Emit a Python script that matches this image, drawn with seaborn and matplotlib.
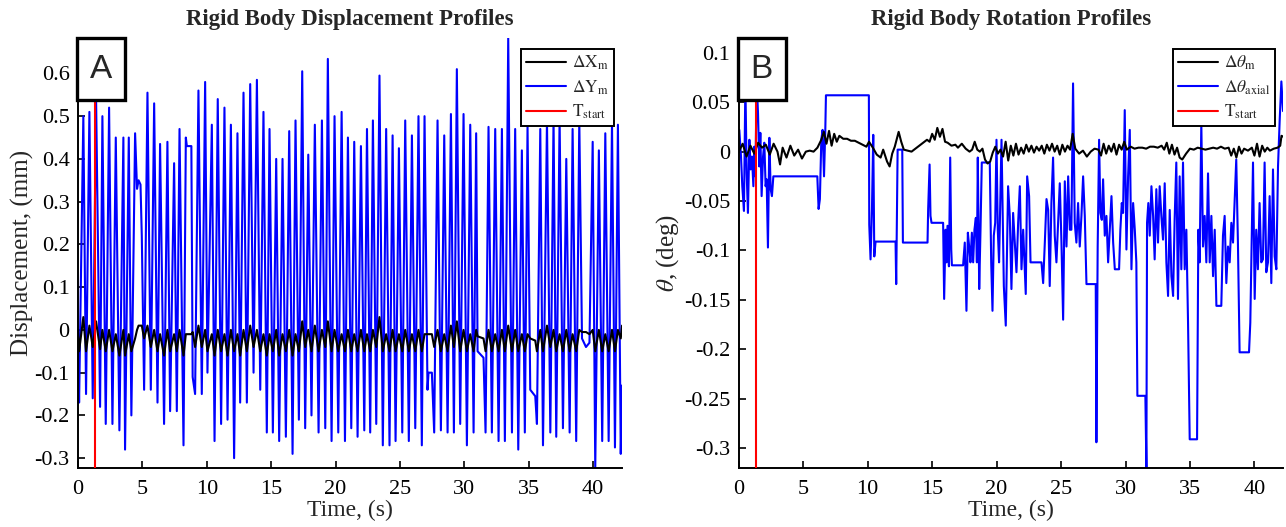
import numpy as np
import pandas as pd
import matplotlib
matplotlib.use("Agg")
import matplotlib.pyplot as plt
from matplotlib.patches import Rectangle
from matplotlib.ticker import FixedLocator, FixedFormatter
import seaborn as sns

# ---------------- Panel A: rigid body displacement (mm) ----------------
t_disp = [
    0.00, 0.08, 0.41, 0.62, 0.88, 1.14, 1.40, 1.71, 1.89, 2.15,
    2.41, 2.67, 2.93, 3.21, 3.52, 3.65, 3.94, 4.14, 4.43, 4.58,
    4.70, 4.85, 4.95, 5.13, 5.39, 5.65, 5.91, 6.17, 6.37, 6.68,
    6.94, 7.15, 7.46, 7.67, 7.88, 8.19, 8.37, 8.45, 8.80, 8.90,
    9.09, 9.35, 9.61, 9.87, 10.05, 10.39, 10.60, 10.85, 11.11, 11.37,
    11.61, 11.87, 12.12, 12.38, 12.59, 12.85, 13.11, 13.37, 13.63, 13.89,
    14.15, 14.40, 14.66, 14.87, 15.13, 15.39, 15.62, 15.88, 16.14, 16.40,
    16.66, 16.89, 17.15, 17.41, 17.64, 17.88, 18.13, 18.39, 18.68, 18.94,
    19.20, 19.40, 19.69, 19.92, 20.21, 20.47, 20.73, 20.96, 21.22, 21.45,
    21.71, 21.97, 22.23, 22.44, 22.69, 22.90, 23.16, 23.41, 23.67, 23.93,
    24.19, 24.43, 24.66, 24.92, 25.18, 25.41, 25.69, 25.93, 26.19, 26.44,
    26.70, 26.91, 27.14, 27.22, 27.48, 27.66, 27.92, 28.18, 28.44, 28.70,
    28.96, 29.19, 29.42, 29.68, 29.94, 30.20, 30.46, 30.72, 30.92, 31.03,
    31.49, 31.65, 31.88, 32.14, 32.40, 32.66, 32.92, 33.15, 33.41, 33.70,
    33.95, 34.19, 34.47, 34.70, 34.91, 35.12, 35.51, 35.64, 35.90, 36.11,
    36.42, 36.68, 36.93, 37.14, 37.40, 37.66, 37.92, 38.18, 38.41, 38.69,
    38.93, 39.14, 39.45, 39.72, 39.97, 40.17, 40.45, 40.71, 40.95, 41.21,
    41.47, 41.70, 41.93, 42.15, 42.25,
]
dY_m = [
    -0.02, -0.17, 0.50, -0.15, 0.51, -0.16, 0.54, -0.18, 0.50, -0.22,
    0.52, -0.22, 0.45, -0.235, 0.45, -0.28, 0.45, -0.20, 0.46, 0.33,
    0.35, 0.34, 0.22, -0.14, 0.555, -0.14, 0.53, -0.17, 0.435, -0.22,
    0.44, -0.19, 0.39, -0.19, 0.47, -0.27, 0.45, 0.43, 0.43, -0.11,
    -0.15, 0.56, -0.15, 0.58, -0.10, 0.48, -0.26, 0.54, -0.22, 0.52,
    -0.21, 0.48, -0.30, 0.46, -0.17, 0.555, -0.17, 0.575, -0.10, 0.585,
    -0.14, 0.51, -0.24, 0.47, -0.24, 0.40, -0.26, 0.40, -0.25, 0.465,
    -0.29, 0.49, -0.21, 0.605, -0.23, 0.41, -0.20, 0.48, -0.24, 0.49,
    -0.23, 0.634, -0.26, 0.50, -0.24, 0.51, -0.26, 0.45, -0.23, 0.44,
    -0.25, 0.43, -0.235, 0.47, -0.24, 0.49, -0.22, 0.595, -0.27, 0.47,
    -0.27, 0.455, -0.26, 0.425, -0.24, 0.49, -0.26, 0.455, -0.23, 0.50,
    -0.27, 0.50, -0.14, -0.10, -0.10, -0.24, 0.49, -0.235, 0.455, -0.24,
    0.505, -0.24, 0.61, -0.22, 0.505, -0.27, 0.48, -0.24, 0.46, -0.05,
    -0.065, -0.24, 0.475, -0.24, 0.47, -0.26, 0.47, -0.26, 0.683, -0.24,
    0.47, -0.28, 0.42, -0.24, 0.477, -0.14, -0.155, -0.22, 0.47, -0.27,
    0.49, -0.24, 0.495, -0.25, 0.495, -0.23, 0.40, -0.24, 0.47, -0.26,
    0.49, -0.02, -0.04, -0.03, 0.44, -0.323, 0.42, -0.26, 0.46, -0.26,
    0.485, -0.275, 0.48, -0.29, -0.13,
]
dX_m = [
    0.00, -0.05, 0.03, -0.05, 0.01, -0.04, 0.02, -0.045, 0.00, -0.05,
    0.00, -0.05, -0.01, -0.06, 0.00, -0.06, -0.01, -0.05, -0.02, 0.00,
    0.01, 0.01, 0.01, -0.02, 0.01, -0.04, 0.00, -0.05, -0.01, -0.06,
    0.00, -0.05, -0.01, -0.05, 0.00, -0.06, -0.01, -0.01, -0.01, -0.005,
    -0.04, 0.01, -0.04, 0.00, -0.05, -0.01, -0.06, 0.00, -0.05, -0.01,
    -0.06, 0.00, -0.05, -0.01, -0.06, 0.00, -0.05, 0.01, -0.04, 0.00,
    -0.05, -0.01, -0.06, -0.01, -0.05, 0.00, -0.06, -0.01, -0.05, 0.00,
    -0.06, -0.01, -0.05, 0.02, -0.04, 0.00, -0.05, 0.01, -0.05, 0.00,
    -0.04, 0.02, -0.05, 0.00, -0.05, -0.01, -0.05, 0.00, -0.05, -0.01,
    -0.05, 0.00, -0.05, -0.01, -0.05, 0.00, -0.04, 0.03, -0.05, -0.01,
    -0.05, 0.00, -0.05, -0.01, -0.05, 0.00, -0.05, -0.01, -0.05, 0.00,
    -0.05, -0.01, -0.01, -0.01, -0.01, -0.04, 0.00, -0.05, -0.01, -0.05,
    0.01, -0.04, 0.02, -0.05, 0.00, -0.05, -0.01, -0.05, 0.00, -0.015,
    -0.02, -0.05, 0.00, -0.05, -0.01, -0.05, 0.00, -0.05, 0.01, -0.05,
    0.00, -0.05, -0.01, -0.05, -0.01, -0.02, -0.025, -0.05, 0.00, -0.05,
    0.01, -0.04, 0.00, -0.05, -0.01, -0.05, 0.00, -0.05, -0.01, -0.05,
    0.00, -0.005, -0.005, -0.01, 0.00, -0.05, 0.00, -0.05, -0.01, -0.05,
    0.00, -0.05, 0.00, -0.02, 0.01,
]

# ---------------- Panel B: rigid body rotation (deg) ----------------
t_axial = [
    0.04, 0.17, 0.27, 0.40, 0.51, 0.61, 0.71, 0.82, 0.92, 1.02,
    1.13, 1.20, 1.28, 1.39, 1.49, 1.59, 1.67, 1.77, 1.88, 1.98,
    2.08, 2.16, 2.26, 2.37, 2.47, 2.57, 2.68, 6.09, 6.19, 6.29,
    6.40, 6.50, 6.61, 6.71, 6.76, 10.09, 10.12, 10.22, 10.33, 10.43,
    10.51, 10.61, 12.16, 12.21, 12.32, 12.68, 12.73, 14.64, 14.69, 14.80,
    14.87, 14.95, 15.85, 15.93, 16.04, 16.11, 16.19, 16.30, 16.40, 16.48,
    16.53, 17.40, 17.53, 17.66, 17.77, 17.87, 17.97, 18.08, 18.18, 18.28,
    18.39, 18.47, 18.54, 18.65, 18.75, 18.85, 19.47, 19.58, 19.68, 19.78,
    19.89, 19.99, 20.09, 20.19, 20.38, 20.56, 20.71, 20.89, 21.02, 21.15,
    21.28, 21.41, 21.54, 21.67, 21.80, 21.93, 22.06, 22.26, 22.37, 22.52,
    22.63, 23.48, 23.61, 23.74, 23.87, 24.00, 24.12, 24.25, 24.38, 24.51,
    24.64, 24.77, 24.90, 25.03, 25.16, 25.29, 25.42, 25.55, 25.68, 25.80,
    25.93, 26.06, 26.19, 26.32, 26.45, 26.58, 26.71, 26.84, 26.97, 27.69,
    27.74, 27.84, 27.95, 28.05, 28.16, 28.26, 28.39, 28.52, 28.65, 28.78,
    28.91, 29.04, 29.17, 29.50, 29.60, 29.71, 29.81, 29.94, 30.07, 30.20,
    30.33, 30.46, 30.59, 30.72, 30.84, 30.92, 31.54, 31.62, 31.67, 31.77,
    31.88, 32.01, 32.14, 32.26, 32.39, 32.52, 32.65, 32.78, 32.91, 33.04,
    33.17, 33.30, 33.43, 33.56, 33.69, 33.81, 33.94, 34.07, 34.20, 34.33,
    34.46, 34.59, 34.72, 34.85, 34.98, 35.55, 35.65, 35.75, 35.88, 36.01,
    36.14, 36.27, 36.40, 36.53, 36.66, 36.79, 36.92, 37.05, 37.43, 37.56,
    37.69, 37.82, 37.95, 38.08, 38.21, 38.34, 38.46, 38.59, 38.72, 38.85,
    39.58, 39.68, 39.78, 39.89, 40.02, 40.14, 40.27, 40.40, 40.53, 40.66,
    40.79, 40.92, 41.05, 41.18, 41.31, 41.44, 41.57, 41.70, 41.83, 41.96,
    42.09, 42.22,
]
dtheta_axial = [
    0.022, -0.005, -0.035, -0.060, 0.070, -0.022, -0.062, 0.012, -0.018, -0.005,
    -0.035, 0.005, -0.025, 0.070, 0.039, -0.015, 0.019, -0.045, -0.005, 0.009,
    -0.035, -0.028, -0.097, 0.014, -0.038, -0.045, -0.025, -0.025, -0.058, -0.048,
    0.012, 0.022, -0.025, 0.022, 0.057, 0.057, -0.074, -0.109, -0.058, 0.017,
    -0.106, -0.091, -0.091, -0.134, 0.002, 0.002, -0.092, -0.092, -0.058, -0.013,
    -0.065, -0.072, -0.072, -0.149, -0.079, -0.112, -0.075, -0.116, -0.006, -0.099,
    -0.115, -0.115, -0.092, -0.161, -0.082, -0.096, -0.112, -0.082, -0.112, -0.079,
    -0.067, -0.112, -0.006, -0.139, -0.079, -0.011, -0.011, -0.112, -0.161, -0.085,
    -0.072, 0.012, -0.079, -0.112, 0.012, -0.136, -0.176, -0.035, -0.065, -0.139,
    -0.062, -0.092, -0.122, -0.072, -0.035, -0.119, -0.079, -0.144, -0.025, -0.045,
    -0.112, -0.112, -0.133, -0.092, -0.048, -0.059, -0.136, -0.052, -0.006, -0.085,
    -0.112, -0.072, -0.032, -0.092, -0.170, -0.030, -0.096, -0.025, -0.079, -0.079,
    0.069, -0.072, -0.092, -0.052, -0.096, -0.065, -0.025, -0.065, -0.134, -0.134,
    -0.294, -0.096, 0.012, -0.062, -0.069, -0.028, -0.085, -0.065, -0.112, -0.079,
    -0.045, -0.092, -0.119, -0.119, -0.079, -0.052, -0.062, 0.042, -0.099, -0.025,
    0.022, -0.119, -0.052, -0.079, -0.112, -0.247, -0.247, -0.320, -0.072, -0.052,
    -0.085, -0.035, -0.065, -0.109, -0.038, -0.092, -0.035, -0.065, -0.089, -0.032,
    -0.112, -0.146, -0.059, -0.126, -0.146, -0.069, -0.011, -0.149, -0.025, -0.119,
    -0.011, -0.119, -0.079, -0.173, -0.291, -0.291, -0.079, -0.112, 0.029, -0.096,
    -0.065, -0.112, -0.022, -0.112, -0.065, -0.126, -0.079, -0.156, -0.156, -0.085,
    -0.065, -0.133, -0.096, -0.112, -0.072, -0.092, -0.052, -0.008, -0.092, -0.203,
    -0.203, -0.173, -0.096, -0.011, -0.149, -0.079, -0.119, -0.052, -0.112, -0.109,
    -0.011, -0.122, -0.112, -0.045, -0.133, -0.018, -0.106, -0.119, -0.015, 0.032,
    0.071, 0.041,
]
t_theta_m = [
    0.0, 0.3, 0.6, 0.9, 1.2, 1.5, 1.8, 2.1, 2.4, 2.7,
    3.0, 3.2, 3.4, 3.7, 4.0, 4.3, 4.6, 4.9, 5.2, 5.5,
    5.8, 6.1, 6.4, 6.6, 6.8, 7.0, 7.2, 7.4, 7.6, 7.8,
    8.1, 8.4, 8.7, 9.0, 9.3, 9.6, 9.9, 10.1, 10.4, 10.7,
    11.0, 11.2, 11.5, 11.7, 11.9, 12.1, 12.4, 12.6, 12.8, 13.1,
    13.4, 13.7, 14.0, 14.3, 14.6, 14.8, 15.0, 15.2, 15.4, 15.6,
    15.8, 16.0, 16.2, 16.5, 16.8, 17.0, 17.3, 17.6, 17.9, 18.1,
    18.3, 18.5, 18.7, 18.9, 19.1, 19.3, 19.5, 19.7, 19.9, 20.1,
    20.3, 20.5, 20.7, 20.9, 21.1, 21.3, 21.5, 21.7, 21.9, 22.1,
    22.3, 22.5, 22.7, 22.9, 23.1, 23.3, 23.5, 23.7, 23.9, 24.1,
    24.3, 24.5, 24.7, 24.9, 25.1, 25.3, 25.5, 25.7, 25.9, 26.1,
    26.4, 26.7, 27.0, 27.3, 27.6, 27.9, 28.1, 28.3, 28.5, 28.7,
    28.9, 29.1, 29.3, 29.5, 29.7, 29.9, 30.1, 30.4, 30.7, 31.0,
    31.3, 31.6, 31.9, 32.2, 32.5, 32.8, 33.0, 33.2, 33.4, 33.6,
    33.8, 34.0, 34.2, 34.4, 34.7, 35.0, 35.3, 35.6, 35.9, 36.2,
    36.5, 36.8, 37.1, 37.4, 37.7, 38.0, 38.2, 38.4, 38.6, 38.8,
    39.0, 39.2, 39.5, 39.8, 40.0, 40.2, 40.4, 40.6, 40.8, 41.0,
    41.2, 41.5, 41.8, 42.0, 42.1, 42.25,
]
dtheta_m = [
    0.000, 0.008, -0.005, 0.006, -0.002, 0.009, 0.004, 0.007, -0.003, 0.008,
    0.000, -0.013, 0.004, -0.006, 0.006, -0.004, 0.002, -0.007, 0.000, 0.001,
    0.000, 0.004, 0.012, 0.020, 0.008, 0.021, 0.006, 0.018, 0.010, 0.016,
    0.013, 0.013, 0.011, 0.011, 0.009, 0.007, 0.005, 0.010, 0.004, -0.003,
    -0.006, 0.002, -0.010, -0.015, -0.002, 0.005, 0.020, 0.010, 0.002, 0.001,
    0.000, 0.003, 0.006, 0.009, 0.012, 0.010, 0.018, 0.012, 0.024, 0.015,
    0.023, 0.010, 0.009, 0.006, 0.007, 0.004, 0.008, 0.003, 0.000, 0.002,
    0.010, 0.002, 0.000, 0.003, -0.008, -0.012, -0.010, -0.001, 0.005, -0.002,
    0.002, -0.005, 0.010, -0.009, 0.006, -0.004, 0.008, -0.003, 0.004, -0.002,
    0.007, 0.000, 0.006, -0.001, 0.005, 0.001, 0.006, -0.002, 0.007, 0.001,
    0.008, 0.000, 0.006, -0.003, 0.007, 0.000, 0.006, 0.002, 0.018, 0.003,
    -0.002, 0.001, -0.005, 0.000, 0.003, 0.002, -0.004, 0.008, -0.002, 0.006,
    0.000, 0.008, -0.003, 0.007, 0.002, 0.010, 0.002, 0.005, 0.003, 0.004,
    0.004, 0.003, 0.005, 0.005, 0.004, 0.006, 0.002, 0.009, -0.002, 0.007,
    -0.003, 0.004, -0.006, -0.008, -0.002, 0.003, 0.002, 0.004, 0.003, 0.002,
    0.003, 0.004, 0.003, 0.005, 0.003, 0.004, -0.004, 0.003, -0.006, 0.005,
    -0.002, 0.003, 0.001, 0.004, -0.004, 0.008, -0.005, 0.006, 0.000, 0.004,
    0.001, 0.003, 0.004, 0.006, 0.016, 0.015,
]

t_start = 1.3

# axis ticks and labels
x_ticks = [0, 5, 10, 15, 20, 25, 30, 35, 40]
x_labels = ["0", "5", "10", "15", "20", "25", "30", "35", "40"]
yA_ticks = [0.6, 0.5, 0.4, 0.3, 0.2, 0.1, 0.0, -0.1, -0.2, -0.3]
yA_labels = ["0.6", "0.5", "0.4", "0.3", "0.2", "0.1", "0", "-0.1", "-0.2", "-0.3"]
yB_ticks = [0.1, 0.05, 0.0, -0.05, -0.1, -0.15, -0.2, -0.25, -0.3]
yB_labels = ["0.1", "0.05", "0", "-0.05", "-0.1", "-0.15", "-0.2", "-0.25", "-0.3"]

# ---------------- styling ----------------
sns.set_theme(style="ticks")
plt.rcParams["font.family"] = ["Liberation Serif", "DejaVu Serif"]
plt.rcParams["mathtext.fontset"] = "stix"
plt.rcParams["axes.unicode_minus"] = False

BLUE = "#0000ff"
BLACK = "#000000"
RED = "#ff0000"
LW = 1.5

fig = plt.figure(figsize=(12.86, 5.27), dpi=100)
axA = fig.add_axes([0.0607, 0.112, 0.423, 0.816])
axB = fig.add_axes([0.5745, 0.112, 0.4235, 0.816])

dfA = pd.DataFrame({"t": t_disp, "dX": dX_m, "dY": dY_m})
dfB_ax = pd.DataFrame({"t": t_axial, "v": dtheta_axial})
dfB_m = pd.DataFrame({"t": t_theta_m, "v": dtheta_m})

# Panel A
sns.lineplot(data=dfA, x="t", y="dX", ax=axA, color=BLACK, lw=LW, sort=False,
             estimator=None, label=r"$\Delta\mathrm{X}_{\mathrm{m}}$", zorder=3)
sns.lineplot(data=dfA, x="t", y="dY", ax=axA, color=BLUE, lw=LW, sort=False,
             estimator=None, label=r"$\Delta\mathrm{Y}_{\mathrm{m}}$", zorder=2)
axA.axvline(t_start, color=RED, lw=LW, label=r"$\mathrm{T}_{\mathrm{start}}$", zorder=4)
axA.set_xlim(0, 42.25)
axA.set_ylim(-0.323, 0.683)
axA.yaxis.set_major_locator(FixedLocator(yA_ticks))
axA.yaxis.set_major_formatter(FixedFormatter(yA_labels))
axA.set_ylabel("Displacement, (mm)", fontsize=18, labelpad=0)
axA.set_title("Rigid Body Displacement Profiles", fontsize=16.5, fontweight="bold", pad=9)

# Panel B
sns.lineplot(data=dfB_m, x="t", y="v", ax=axB, color=BLACK, lw=LW, sort=False,
             estimator=None, label=r"$\Delta\theta_{\mathrm{m}}$", zorder=3)
sns.lineplot(data=dfB_ax, x="t", y="v", ax=axB, color=BLUE, lw=LW, sort=False,
             estimator=None, label=r"$\Delta\theta_{\mathrm{axial}}$", zorder=2)
axB.axvline(t_start, color=RED, lw=LW, label=r"$\mathrm{T}_{\mathrm{start}}$", zorder=4)
axB.set_xlim(0, 42.25)
axB.set_ylim(-0.32, 0.115)
axB.yaxis.set_major_locator(FixedLocator(yB_ticks))
axB.yaxis.set_major_formatter(FixedFormatter(yB_labels))
axB.set_ylabel(r"$\theta$, (deg)", fontsize=18, labelpad=2)
axB.set_title("Rigid Body Rotation Profiles", fontsize=16.5, fontweight="bold", pad=9)

for ax, letter in ((axA, "A"), (axB, "B")):
    ax.xaxis.set_major_locator(FixedLocator(x_ticks))
    ax.xaxis.set_major_formatter(FixedFormatter(x_labels))
    ax.set_xlabel("Time, (s)", fontsize=17, labelpad=0)
    ax.tick_params(direction="in", length=5, width=1.2, labelsize=16,
                   colors="black")
    ax.tick_params(axis="x", pad=9)
    ax.tick_params(axis="y", pad=6)
    for side in ("top", "right"):
        ax.spines[side].set_visible(False)
    for side in ("left", "bottom"):
        ax.spines[side].set_linewidth(1.4)
        ax.spines[side].set_color("black")
    leg = ax.legend(loc="upper right", fontsize=12.5, frameon=True, fancybox=False,
                    framealpha=1, edgecolor="black", handlelength=2.3,
                    bbox_to_anchor=(0.985, 0.975), borderaxespad=0.0,
                    labelspacing=0.35, borderpad=0.3, handletextpad=0.35)
    leg.get_frame().set_linewidth(1.4)
    leg.set_zorder(10)
    # panel letter box
    ax.add_patch(Rectangle((-0.002, 0.855), 0.088, 0.145, transform=ax.transAxes,
                           facecolor="white", edgecolor="black", lw=2.4,
                           zorder=8, clip_on=False))
    ax.text(0.042, 0.927, letter, transform=ax.transAxes, ha="center", va="center",
            fontsize=24, family="Liberation Sans", zorder=9)

fig.savefig("out.png", dpi=100)
